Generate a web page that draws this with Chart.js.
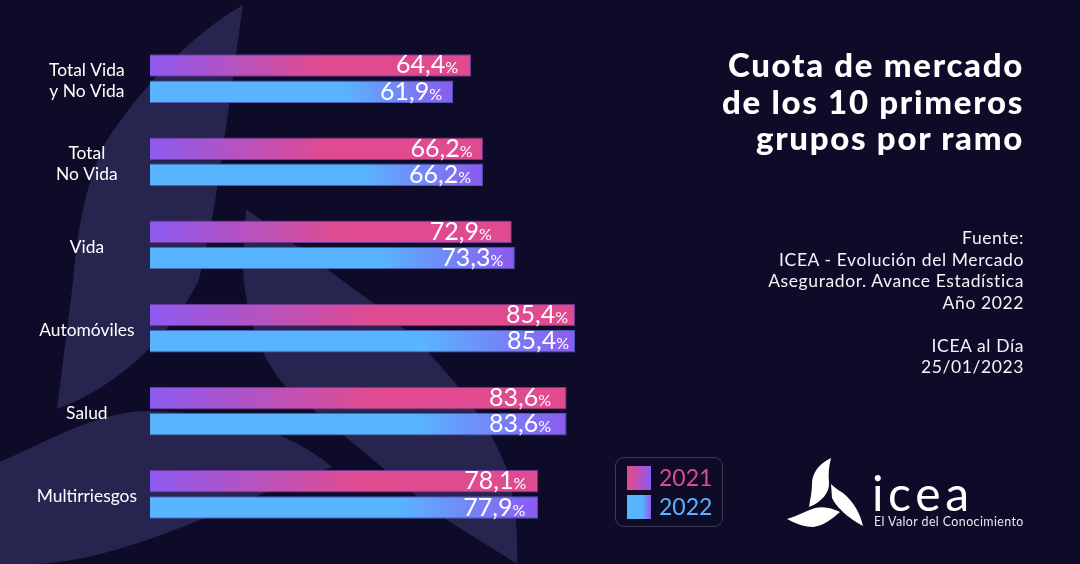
<!DOCTYPE html>
<html lang="es">
<head>
<meta charset="utf-8">
<title>Cuota de mercado</title>
<script src="https://cdn.jsdelivr.net/npm/chart.js@4"></script>
<style>
  html, body { margin: 0; padding: 0; background: #0d0b28; }
  #page { position: relative; width: 1080px; height: 564px; overflow: hidden; background: #0d0b28; font-family: Lato, sans-serif; color: #fff; }
  #page svg, #page canvas { position: absolute; left: 0; top: 0; }
  .right { position: absolute; right: 56px; text-align: right; white-space: nowrap; }
  #title { top: 46px; font-size: 33px; line-height: 36.5px; font-weight: 900; letter-spacing: 1.7px; }
  #source { top: 227px; font-size: 17.5px; line-height: 21.5px; letter-spacing: .6px; color: #f4f4f8; }
  #legend { position: absolute; left: 615px; top: 457px; width: 106px; height: 68px; border: 1px solid #3b3950; border-radius: 9px; }
  #legend i { position: absolute; left: 11px; width: 24px; height: 24px; }
  #legend span { position: absolute; left: 43px; font-size: 23px; line-height: 26px; }
  #brand { position: absolute; left: 872px; top: 465px; font-size: 48px; line-height: 56px; letter-spacing: 4.6px; }
  #tagline { position: absolute; left: 874px; top: 514px; font-size: 12.4px; line-height: 16px; letter-spacing: .42px; color: #e8e8ee; white-space: nowrap; }
</style>
</head>
<body>
<div id="page">
  <svg width="1080" height="564" viewBox="0 0 1080 564">
    <g fill="#27244f">
      <path d="M243,5 C190,35 140,90 107,140 C85,180 76,240 73,282 L57,409 C110,390 165,345 198,282 C215,225 225,130 243,5 Z"/>
      <path d="M246,209 C290,240 340,280 375,304 C420,340 480,400 507,469 C515,500 518,530 517,564 L439,515 L384,469 L286,387 C265,365 245,320 243,267 Z"/>
      <path d="M332,467 C290,430 220,411 150,411 C100,411 60,435 0,462 L0,564 L36,564 C90,562 150,540 200,520 L266,492 Z"/>
    </g>
    <g fill="#fff">
      <path d="M831,458 C818,464 812,474 812,484 C812,492 810,500 809,507 C822,502 830,492 829,482 C828,474 829,466 831,458 Z"/>
      <path d="M831,484 L832,498 C838,510 852,520 863,526 C860,512 852,500 843,493 C838,490 834,487 831,484 Z"/>
      <path d="M787,519 C797,516 806,511 815,508 C823,506 832,508 840,512 C832,519 823,526 813,527 C803,527 795,523 787,519 Z"/>
    </g>
  </svg>
  <canvas id="chartContainer" width="1080" height="564"></canvas>
  <div id="title" class="right">Cuota de mercado<br>de los 10 primeros<br>grupos por ramo</div>
  <div id="source" class="right">Fuente:<br>ICEA - Evolución del Mercado<br>Asegurador. Avance Estadística<br>Año 2022<br><br>ICEA al Día<br>25/01/2023</div>
  <div id="legend">
    <i style="top:8px;background:linear-gradient(90deg,#e04b90 10%,#8c5af0 100%)"></i>
    <span id="legendA" style="top:6px;color:#e04b90"></span>
    <i style="top:37px;background:linear-gradient(90deg,#59b4ff 65%,#8c5af0 100%)"></i>
    <span id="legendB" style="top:35px;color:#59b4ff"></span>
  </div>
  <div id="brand">icea</div>
  <div id="tagline">El Valor del Conocimiento</div>
</div>
<script>
const categories = [['Total Vida', 'y No Vida'], ['Total', 'No Vida'], 'Vida', 'Automóviles', 'Salud', 'Multirriesgos'];
const seriesNames = ['2021', '2022'];
// bar lengths as measured on the picture, they do not always agree with the printed figure
const values2021 = [64.5, 66.9, 72.7, 85.4, 83.7, 78.0];
const values2022 = [60.9, 66.9, 73.3, 85.4, 83.7, 78.0];
// the printed figures
const labels2021 = ['64,4', '66,2', '72,9', '85,4', '83,6', '78,1'];
const labels2022 = ['61,9', '66,2', '73,3', '85,4', '83,6', '77,9'];
// how far each printed figure sits in from the end of its bar, px
const inset2021 = [13, 10.5, 20, 7, 15.5, 12];
const inset2022 = [11, 12, 11.5, 6, 15.5, 13];

const PURPLE = '#8c5af0';
const PINK = '#e04b90';
const BLUE = '#59b4ff';

// each bar gets its own gradient, running from the axis to the end of the bar
function barGradient(context, stops, fallback) {
  const chart = context.chart;
  if (!chart.chartArea || !context.parsed) return fallback;
  const x = chart.scales.x;
  const g = chart.ctx.createLinearGradient(x.getPixelForValue(0), 0, x.getPixelForValue(context.parsed.x), 0);
  stops.forEach(s => g.addColorStop(s[0], s[1]));
  return g;
}

// "64,4" in big type and a smaller % next to it, inside the end of the bar
const valueLabels = {
  id: 'valueLabels',
  afterDatasetsDraw(chart) {
    const ctx = chart.ctx;
    const texts = [labels2021, labels2022];
    const insets = [inset2021, inset2022];
    ctx.save();
    ctx.fillStyle = '#fff';
    ctx.textBaseline = 'alphabetic';
    ctx.textAlign = 'left';
    chart.data.datasets.forEach((ds, i) => {
      chart.getDatasetMeta(i).data.forEach((bar, j) => {
        const num = texts[i][j];
        ctx.font = '400 16px Lato';
        const pw = ctx.measureText('%').width;
        ctx.font = '400 25px Lato';
        const nw = ctx.measureText(num).width;
        const right = bar.x - insets[i][j];
        const base = bar.y + 8;
        ctx.fillText(num, right - pw - nw, base);
        ctx.font = '400 16px Lato';
        ctx.fillText('%', right - pw, base);
      });
    });
    ctx.restore();
  }
};

document.getElementById('legendA').textContent = seriesNames[0];
document.getElementById('legendB').textContent = seriesNames[1];

let chart = new Chart(document.getElementById('chartContainer').getContext('2d'), {
  type: 'bar',
  data: {
    labels: categories,
    datasets: [{
      label: seriesNames[0],
      data: values2021,
      backgroundColor: c => barGradient(c, [[0, PURPLE], [0.53, PINK], [1, PINK]], PINK),
      borderColor: '#6b3a98',
      borderWidth: 1
    }, {
      label: seriesNames[1],
      data: values2022,
      backgroundColor: c => barGradient(c, [[0, BLUE], [0.64, BLUE], [1, PURPLE]], BLUE),
      borderColor: '#4f5bb8',
      borderWidth: 1
    }]
  },
  options: {
    indexAxis: 'y',
    responsive: false,
    animation: false,
    devicePixelRatio: 1,
    categoryPercentage: 0.63,
    barPercentage: 0.86,
    layout: { padding: { left: 13, right: 432.3, top: 37, bottom: 28 } },
    plugins: { legend: { display: false }, title: { display: false }, tooltip: { enabled: false } },
    scales: {
      x: { display: false, min: 0, max: 100 },
      y: {
        afterFit(scale) { scale.width = 137; },
        grid: { display: false },
        border: { display: false },
        ticks: {
          crossAlign: 'center',
          color: '#fff',
          padding: 5,
          labelOffset: 2,
          font: { family: 'Lato', size: 17.4, lineHeight: 1.22 }
        }
      }
    }
  },
  plugins: [valueLabels]
});
</script>
</body>
</html>
